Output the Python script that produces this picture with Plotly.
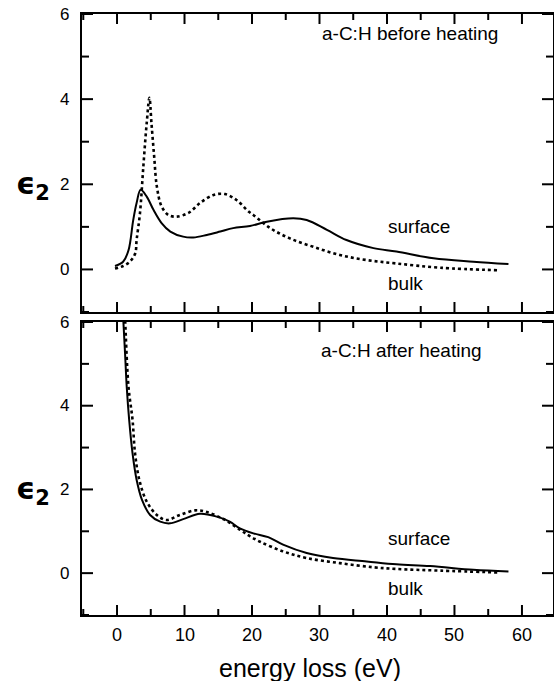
import plotly.graph_objects as go

# ---- data ----
top_surface_x = [-0.3, 0.9, 1.7, 2.4, 2.9, 3.5, 4.4, 5.4, 6.6, 7.9, 9.8, 11.3, 13.3, 15.3, 17.2, 19.7,
                 22.2, 26.1, 28.1, 31.1, 34.0, 38.0, 41.4, 46.9, 52.8, 58.0]
top_surface_y = [0.08, 0.18, 0.45, 1.16, 1.56, 1.87, 1.71, 1.40, 1.09, 0.89, 0.77, 0.75, 0.81, 0.89, 0.97, 1.02,
                 1.12, 1.20, 1.16, 0.93, 0.69, 0.50, 0.42, 0.26, 0.18, 0.125]
top_bulk_x = [-0.3, 0.9, 1.9, 2.7, 2.9, 3.4, 3.9, 4.4, 4.8, 5.1, 5.5, 5.9, 6.6, 7.6, 8.8, 10.6, 12.3, 14.3,
              16.0, 17.7, 19.5, 20.2, 22.7, 25.6, 29.1, 33.0, 37.0, 41.4, 47.9, 56.7]
top_bulk_y = [0.02, 0.08, 0.18, 0.38, 0.69, 1.32, 2.42, 3.44, 4.03, 3.44, 2.66, 1.95, 1.48, 1.28, 1.24, 1.33,
              1.56, 1.75, 1.77, 1.63, 1.36, 1.28, 0.97, 0.73, 0.53, 0.34, 0.22, 0.14, 0.04, -0.02]

bot_surface_x = [0.8, 0.93, 1.19, 1.44, 1.8, 2.3, 2.9, 3.7, 4.9, 6.4, 7.85, 9.8, 12.3, 14.8, 16.7, 18.2,
                 20.2, 22.4, 24.6, 28.1, 32.0, 37.0, 41.4, 46.4, 52.8, 58.0]
bot_surface_y = [6.6, 6.05, 5.25, 4.45, 3.66, 2.86, 2.23, 1.75, 1.39, 1.23, 1.19, 1.29, 1.42, 1.35, 1.23, 1.07,
                 0.95, 0.86, 0.68, 0.48, 0.36, 0.28, 0.21, 0.17, 0.08, 0.04]
bot_bulk_x = [1.05, 1.2, 1.7, 2.3, 2.67, 3.3, 4.4, 5.9, 7.3, 9.3, 11.6, 13.3, 16.0, 18.2, 19.5, 21.2,
              24.6, 28.1, 33.0, 38.0, 41.4, 47.9, 56.7]
bot_bulk_y = [6.6, 6.05, 4.45, 3.66, 2.86, 2.23, 1.71, 1.39, 1.27, 1.39, 1.50, 1.46, 1.27, 1.04, 0.90, 0.75,
              0.52, 0.36, 0.24, 0.14, 0.10, 0.06, 0.015]

x_major = [0, 10, 20, 30, 40, 50, 60]
x_minor = [-5, 5, 15, 25, 35, 45, 55]
y_major = [0, 2, 4, 6]
y_minor = [-1, 1, 3, 5]

W, H = 554, 681
FONT = "Liberation Sans, Arial, sans-serif"

fig = go.Figure()
line_solid = dict(color="black", width=2, dash="solid")
line_dot = dict(color="black", width=2.6, dash="dot")
fig.add_trace(go.Scatter(x=top_surface_x, y=top_surface_y, mode="lines", line=dict(**line_solid, shape="spline"), xaxis="x", yaxis="y"))
fig.add_trace(go.Scatter(x=top_bulk_x, y=top_bulk_y, mode="lines", line=dict(**line_dot, shape="spline"), xaxis="x", yaxis="y"))
fig.add_trace(go.Scatter(x=bot_surface_x, y=bot_surface_y, mode="lines", line=dict(**line_solid, shape="spline"), xaxis="x2", yaxis="y2"))
fig.add_trace(go.Scatter(x=bot_bulk_x, y=bot_bulk_y, mode="lines", line=dict(**line_dot, shape="spline"), xaxis="x2", yaxis="y2"))

xdom = [82 / W, 553 / W]
top_dom = [(H - 312) / H, (H - 14) / H]
bot_dom = [(H - 615) / H, (H - 322) / H]
xrange_ = [-5.19, 64.6]
yrange_ = [-1, 6]

plot_w = (xdom[1] - xdom[0]) * W
panel_h = {"": (top_dom[1] - top_dom[0]) * H, "2": (bot_dom[1] - bot_dom[0]) * H}

def xax(suffix):
    return dict(range=xrange_, domain=xdom, showline=True, linecolor="black", linewidth=2, mirror=True,
                ticks="", showgrid=False, zeroline=False, showticklabels=False, anchor="y" + suffix)

def yax(suffix, dom):
    return dict(range=yrange_, domain=dom, showline=True, linecolor="black", linewidth=2, mirror=True,
                ticks="", showgrid=False, zeroline=False, showticklabels=False, anchor="x" + suffix)

fig.update_layout(
    width=W, height=H, margin=dict(l=0, r=0, t=0, b=0),
    paper_bgcolor="white", plot_bgcolor="white", showlegend=False,
    xaxis=xax(""), yaxis=yax("", top_dom),
    xaxis2=xax("2"), yaxis2=yax("2", bot_dom),
)

# inward tick marks on all four sides of each panel, placed through the axes' scales
for s in ("", "2"):
    ph = panel_h[s]
    for vals, L in ((x_major, 10), (x_minor, 6)):
        f = L / ph
        for v in vals:
            fig.add_shape(type="line", layer="above", xref="x" + s, yref="y" + s + " domain",
                          x0=v, x1=v, y0=0, y1=f, line=dict(color="black", width=2))
            fig.add_shape(type="line", layer="above", xref="x" + s, yref="y" + s + " domain",
                          x0=v, x1=v, y0=1, y1=1 - f, line=dict(color="black", width=2))
    for vals, L in ((y_major, 11), (y_minor, 7)):
        f = L / plot_w
        for v in vals:
            fig.add_shape(type="line", layer="above", xref="x" + s + " domain", yref="y" + s,
                          x0=0, x1=f, y0=v, y1=v, line=dict(color="black", width=2))
            fig.add_shape(type="line", layer="above", xref="x" + s + " domain", yref="y" + s,
                          x0=1, x1=1 - f, y0=v, y1=v, line=dict(color="black", width=2))

# tick labels placed through the axes' scales
tick_font = dict(family=FONT, size=18, color="black")
for v in x_major:
    fig.add_annotation(text=str(v), x=v, xref="x2", y=1 - 635 / H, yref="paper", showarrow=False,
                       xanchor="center", yanchor="middle", font=tick_font)
for s in ("", "2"):
    for v in y_major:
        fig.add_annotation(text=str(v), x=71 / W, xref="paper", y=v, yref="y" + s, showarrow=False,
                           xanchor="right", yanchor="middle", font=dict(family=FONT, size=17, color="black"))

ann_font = dict(family=FONT, size=19, color="black")
anns = [
    dict(text="a-C:H before heating", x=410, y=33),
    dict(text="surface", x=419, y=227),
    dict(text="bulk", x=405, y=283),
    dict(text="a-C:H after heating", x=401, y=350),
    dict(text="surface", x=419, y=538),
    dict(text="bulk", x=405, y=588),
]
for a in anns:
    fig.add_annotation(text=a["text"], x=a["x"] / W, y=1 - a["y"] / H, xref="paper", yref="paper",
                       showarrow=False, xanchor="center", yanchor="middle", font=ann_font)

fig.add_annotation(text="energy loss (eV)", x=310 / W, y=1 - 668 / H, xref="paper", yref="paper",
                   showarrow=False, xanchor="center", yanchor="middle",
                   font=dict(family=FONT, size=25, color="black"))
for yc in (185, 490):
    fig.add_annotation(text="<b>ϵ<sub>2</sub></b>", x=33 / W, y=1 - yc / H, xref="paper", yref="paper",
                       showarrow=False, xanchor="center", yanchor="middle",
                       font=dict(family="DejaVu Sans, sans-serif", size=30, color="black"))

fig.write_html("out.html")
